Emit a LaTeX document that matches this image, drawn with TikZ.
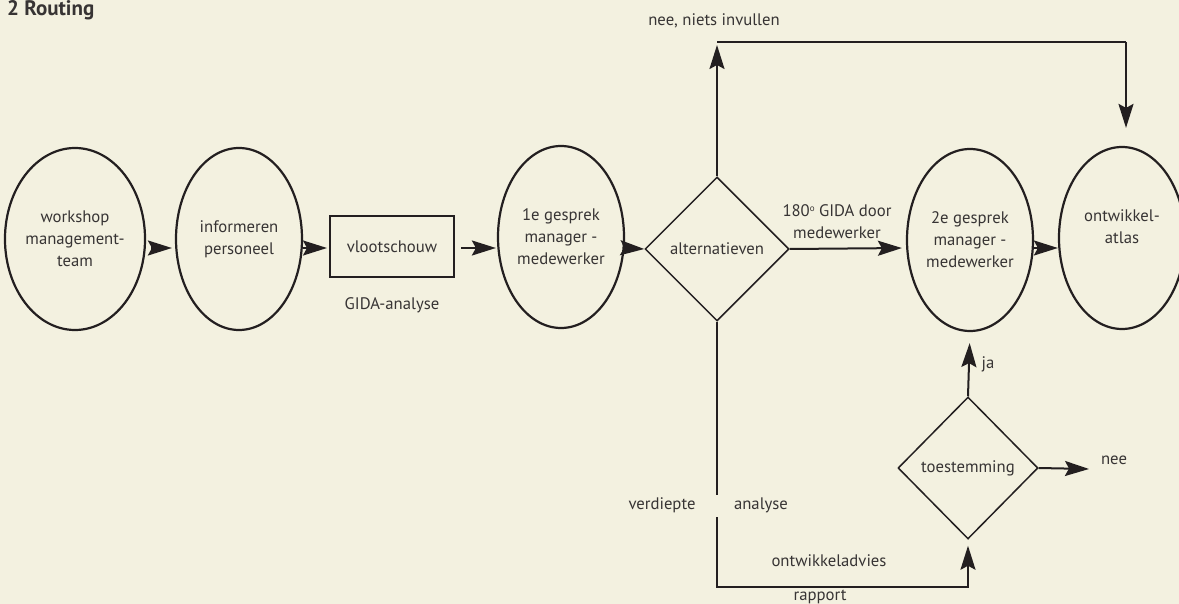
\documentclass[tikz,border=0pt]{standalone}
\usepackage{fontspec}
\setmainfont{PT Sans}
\usetikzlibrary{shapes.geometric,arrows.meta,calc}
\definecolor{bg}{RGB}{243,241,224}
\definecolor{ink}{RGB}{35,31,32}
\definecolor{txt}{RGB}{55,52,52}
\newcommand\dfont{\fontsize{16.7}{22}\selectfont}
\begin{document}
\begin{tikzpicture}[x=1pt,y=-1pt,
  ell/.style={ellipse, draw=ink, line width=2.2pt, minimum width=126pt, minimum height=182pt, inner sep=0pt, align=center, text=txt, font=\dfont},
  dia/.style={diamond, draw=ink, line width=1.5pt, inner sep=0pt, minimum width=144pt, minimum height=144pt, text=txt, font=\dfont},
  box/.style={rectangle, draw=ink, line width=2pt, minimum width=124pt, minimum height=61pt, inner sep=0pt, text=txt, font=\dfont},
  lbl/.style={text=txt, font=\dfont, align=center, inner sep=0pt},
  conn/.style={draw=ink, line width=2pt},
  arr/.style={conn, -{Stealth[length=24pt,width=15pt,inset=4pt]}}]
\fill[bg] (0,0) rectangle (1179,604);
\useasboundingbox (0,0) rectangle (1179,604);

\node[anchor=base west, inner sep=0pt, text=txt, font=\fontsize{21}{24}\selectfont\bfseries] (title) at (7,16) {2 Routing};

\node[ell] (w) at (75,239) {workshop\\management-\\team};
\node[ell] (i) at (239,239) {informeren\\personeel};
\node[box] (v) at (392,246.5) {vlootschouw};
\node[lbl] (gida) at (392,305) {GIDA-analyse};
\node[ell] (g1) at (561,237) {1e gesprek\\manager -\\medewerker};
\node[dia] (alt) at (717,249) {alternatieven};
\node[ell] (g2) at (970,240) {2e gesprek\\manager -\\medewerker};
\node[ell] (at) at (1122,238) {ontwikkel-\\atlas\\\mbox{}};
\node[dia, minimum width=140pt, minimum height=142pt] (toe) at (968,468) {toestemming};

\coordinate (ay) at (0,248);
\coordinate (c1) at (717,42);
\coordinate (c2) at (1126,42);
\coordinate (gt) at (717,495);
\coordinate (gb) at (717,517);
\coordinate (cb) at (717,587);
\coordinate (neeend) at (1089,469);

% labels
\node[lbl] (niets) at (714,21) {nee, niets invullen};
\node[lbl] (gida180) at (837,222) {180\raisebox{0.6ex}{\fontsize{9}{9}\selectfont o} GIDA door\\medewerker};
\node[lbl] (ja) at (988,364) {ja};
\node[lbl] (nee) at (1114,460) {nee};
\node[lbl] (verd) at (662,505) {verdiepte};
\node[lbl] (anal) at (761,505) {analyse};
\node[lbl] (advies) at (829,561) {ontwikkeladvies};
\node[lbl] (rapp) at (820,597) {rapport};

% main row
\draw[arr, shorten <=5pt, shorten >=3pt] (w.east |- ay) -- (i.west |- ay);
\draw[arr, shorten >=2pt] (i.east |- ay) -- (v.west |- ay);
\draw[arr, shorten <=6pt, shorten >=1pt] (v.east |- ay) -- (g1.west |- ay);
\draw[arr] (g1.east |- ay) -- (alt.west);
\draw[arr, shorten >=4pt] (alt.east) -- (g2.west |- ay);
\draw[arr] (g2.east |- ay) -- (at.west |- ay);

% top loop
\draw[arr, shorten >=3pt] (alt.north) -- (c1);
\draw[conn] (c1) -- (c2);
\draw[arr, shorten >=18pt] (c2) -- (c2 |- at.north);

% bottom route
\draw[conn] (alt.south) -- (gt);
\draw[arr, shorten >=6pt] (gb) -- (cb) -| (toe.south);
\draw[arr, shorten >=11pt] (toe.north) -- (g2.south);
\draw[arr] (toe.east) -- (neeend);
\end{tikzpicture}
\end{document}
